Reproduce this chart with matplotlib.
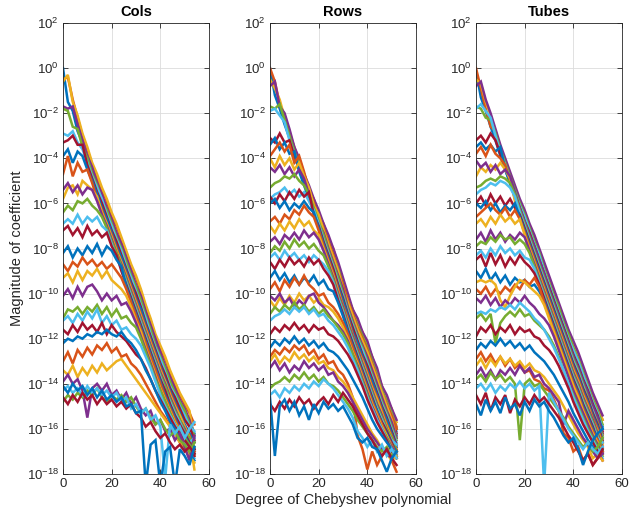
import numpy as np
import matplotlib
matplotlib.use("Agg")
import matplotlib.pyplot as plt
from matplotlib.ticker import FixedLocator, NullLocator

plt.rcParams['font.family'] = ['Liberation Sans', 'DejaVu Sans']
plt.rcParams['mathtext.fontset'] = 'custom'
plt.rcParams['mathtext.rm'] = 'Liberation Sans'
plt.rcParams['mathtext.it'] = 'Liberation Sans:italic'
plt.rcParams['mathtext.default'] = 'regular'

# MATLAB default colour order
colors = ['#0072BD', '#D95319', '#EDB120', '#7E2F8E', '#77AC30', '#4DBEEE', '#A2142F']

titles = ['Cols', 'Rows', 'Tubes']
xlabel = 'Degree of Chebyshev polynomial'
ylabel = 'Magnitude of coefficient'

# Chebyshev degrees sampled (every second degree)
deg_cols = list(range(0, 55, 2))
deg_rows = list(range(0, 53, 2))
deg_tubes = list(range(0, 53, 2))

# log10 of |coefficient|, one list per curve
cols_log10 = [
    [0.0,-1.5,-1.9,-2.8,-3.3,-4.1,-4.6,-5.3,-5.8,-6.4,-6.9,-7.5,-8.0,-8.6,-9.2,-9.8,-10.3,-11.0,-11.6,-12.3,-12.8,-13.4,-13.9,-14.5,-14.8,-15.3,-15.6,-16.2],
    [-0.5,-0.4,-1.4,-2.2,-3.0,-3.6,-4.3,-4.9,-5.4,-5.9,-6.6,-7.0,-7.6,-8.2,-8.8,-9.3,-9.9,-10.6,-11.2,-11.9,-12.4,-12.9,-13.5,-14.0,-14.5,-14.9,-15.3,-15.8],
    [-0.6,-0.3,-1.5,-2.1,-2.9,-3.5,-4.2,-4.7,-5.3,-5.8,-6.4,-6.9,-7.5,-8.1,-8.7,-9.2,-9.8,-10.5,-11.1,-11.8,-12.3,-12.8,-13.4,-13.9,-14.4,-14.8,-15.2,-16.6],
    [-1.7,-1.8,-1.7,-2.5,-3.2,-3.9,-4.4,-5.1,-5.6,-6.2,-6.7,-7.3,-7.8,-8.4,-9.0,-9.6,-10.1,-10.8,-11.4,-12.0,-12.6,-13.2,-13.7,-14.2,-14.7,-15.1,-15.6,-16.4],
    [-1.8,-1.9,-2.6,-2.7,-3.5,-4.0,-4.7,-5.2,-5.9,-6.3,-6.9,-7.5,-8.0,-8.6,-9.2,-9.7,-10.3,-11.0,-11.6,-12.3,-12.8,-13.3,-13.9,-14.4,-14.8,-15.2,-15.8,-16.3],
    [-2.9,-3.0,-2.8,-3.3,-3.6,-4.2,-4.8,-5.3,-5.8,-6.5,-7.0,-7.6,-8.1,-8.8,-9.3,-9.9,-10.5,-11.1,-11.8,-12.4,-12.9,-13.5,-14.1,-14.5,-15.0,-15.4,-15.9,-16.1],
    [-3.3,-3.2,-3.0,-3.4,-3.4,-4.3,-4.9,-5.5,-6.0,-6.6,-7.2,-7.7,-8.3,-8.9,-9.5,-10.0,-10.6,-11.3,-11.9,-12.5,-13.1,-13.6,-14.2,-14.6,-15.1,-15.6,-15.9,-16.5],
    [-3.9,-3.6,-4.2,-3.7,-3.9,-4.5,-5.0,-5.6,-6.2,-6.7,-7.3,-7.9,-8.4,-9.0,-9.6,-10.2,-10.7,-11.4,-12.0,-12.6,-13.2,-13.8,-14.3,-14.8,-15.3,-15.8,-16.2,-16.6],
    [-4.7,-3.9,-4.8,-4.2,-4.6,-4.5,-5.1,-5.8,-6.3,-6.9,-7.4,-8.0,-8.6,-9.1,-9.7,-10.3,-10.9,-11.5,-12.1,-12.7,-13.3,-13.9,-14.4,-14.9,-15.4,-15.9,-16.3,-16.9],
    [-5.8,-5.3,-5.2,-5.6,-5.0,-5.2,-5.4,-5.7,-6.4,-6.9,-7.5,-8.1,-8.6,-9.2,-9.8,-10.4,-11.0,-11.6,-12.2,-12.8,-13.4,-13.9,-14.5,-15.0,-15.4,-15.9,-16.4,-17.8],
    [-5.4,-5.1,-5.5,-5.2,-5.6,-5.3,-5.4,-5.9,-6.5,-7.0,-7.6,-8.2,-8.7,-9.3,-9.9,-10.5,-11.1,-11.7,-12.3,-12.9,-13.5,-14.0,-14.6,-15.1,-15.6,-16.0,-16.5,-16.9],
    [-6.4,-6.1,-6.3,-5.9,-6.0,-5.8,-6.1,-6.3,-6.6,-7.1,-7.7,-8.2,-8.8,-9.4,-10.0,-10.6,-11.2,-11.8,-12.4,-13.0,-13.6,-14.1,-14.7,-15.2,-15.6,-16.1,-16.4,-16.8],
    [-6.9,-6.7,-6.9,-6.5,-6.9,-6.6,-6.8,-6.6,-7.0,-7.2,-7.8,-8.4,-8.9,-9.5,-10.1,-10.7,-11.3,-11.9,-12.5,-13.1,-13.7,-14.3,-14.8,-15.3,-15.7,-16.2,-16.6,-16.4],
    [-7.2,-7.0,-7.4,-7.1,-7.5,-7.0,-7.4,-7.2,-7.5,-7.3,-7.9,-8.3,-9.0,-9.6,-10.2,-10.8,-11.4,-12.0,-12.6,-13.2,-13.8,-14.3,-14.9,-15.4,-15.8,-16.2,-16.6,-16.9],
    [-8.2,-7.9,-8.4,-8.0,-8.3,-7.9,-8.2,-7.8,-8.3,-7.9,-8.1,-8.5,-8.8,-9.7,-10.3,-10.9,-11.5,-12.1,-12.7,-13.3,-13.9,-14.5,-15.0,-15.5,-16.0,-16.3,-16.7,-17.0],
    [-8.7,-9.0,-8.6,-8.8,-8.4,-8.7,-8.5,-8.8,-8.6,-8.9,-8.7,-9.0,-9.3,-9.8,-10.4,-11.0,-11.6,-12.2,-12.8,-13.4,-14.0,-14.6,-15.1,-15.6,-16.0,-16.4,-16.8,-17.0],
    [-9.3,-9.1,-9.5,-9.0,-9.4,-9.0,-9.2,-8.9,-9.3,-9.0,-9.4,-9.6,-9.8,-10.1,-10.6,-11.2,-11.7,-12.4,-13.0,-13.6,-14.2,-14.7,-15.2,-15.7,-16.1,-16.5,-16.9,-17.2],
    [-10.1,-9.8,-10.2,-9.7,-10.1,-9.7,-9.6,-9.9,-10.3,-10.0,-10.3,-10.1,-10.5,-10.4,-10.8,-11.3,-11.9,-12.5,-13.1,-13.7,-14.3,-14.8,-15.3,-15.8,-16.2,-16.5,-16.8,-17.1],
    [-11.1,-10.7,-10.8,-10.6,-10.9,-10.6,-10.8,-10.5,-10.9,-10.6,-11.0,-10.7,-11.1,-11.0,-11.3,-11.5,-12.0,-12.6,-13.2,-13.8,-14.3,-14.8,-15.3,-15.8,-16.1,-16.4,-16.7,-17.1],
    [-11.2,-11.0,-11.3,-10.9,-11.2,-10.8,-11.1,-10.7,-11.3,-11.0,-11.4,-11.2,-11.6,-11.5,-11.8,-12.0,-12.3,-12.8,-13.3,-13.9,-14.5,-15.0,-15.4,-15.8,-16.2,-16.6,-16.9,-17.3],
    [-11.6,-11.8,-11.4,-11.7,-11.3,-11.6,-11.4,-11.7,-11.3,-11.8,-11.4,-11.7,-11.9,-12.1,-12.4,-12.7,-12.9,-13.3,-13.8,-14.3,-14.7,-15.1,-15.5,-15.9,-16.2,-16.5,-16.8,-17.2],
    [-12.2,-12.0,-12.1,-11.9,-12.0,-11.8,-11.9,-11.7,-11.8,-11.6,-11.8,-11.9,-11.7,-12.0,-12.2,-12.5,-12.9,-13.4,-13.8,-14.3,-14.8,-15.2,-15.7,-16.0,-16.4,-16.8,-17.1,-17.4],
    [-13.0,-12.6,-13.1,-12.5,-12.8,-12.4,-12.7,-12.3,-12.5,-12.2,-12.6,-12.4,-12.8,-12.7,-13.1,-13.3,-13.6,-14.0,-14.4,-14.8,-15.2,-15.5,-15.9,-16.2,-16.6,-16.9,-17.2,-17.0],
    [-13.4,-13.6,-13.2,-13.7,-13.3,-13.6,-13.2,-13.5,-13.1,-13.4,-13.2,-13.0,-12.9,-13.2,-13.5,-13.8,-14.1,-14.4,-14.7,-15.0,-15.3,-15.6,-15.9,-16.2,-16.6,-16.9,-17.2,-17.5],
    [-13.9,-13.6,-14.0,-13.8,-14.3,-15.5,-14.2,-14.0,-14.3,-14.0,-14.5,-14.3,-14.7,-14.4,-14.9,-14.6,-15.1,-15.4,-15.2,-15.8,-15.6,-16.1,-16.0,-16.5,-16.2,-16.8,-17.4,-16.3],
    [-14.8,-14.5,-14.7,-14.4,-14.6,-14.3,-14.5,-14.2,-14.6,-14.8,-14.5,-14.7,-14.5,-14.8,-14.6,-15.0,-15.3,-15.1,-15.5,-15.8,-15.6,-16.0,-16.3,-16.1,-16.5,-16.7,-17.0,-16.6],
    [-14.3,-14.1,-14.4,-14.2,-14.5,-14.1,-14.4,-14.2,-14.5,-14.3,-14.6,-14.4,-14.8,-14.6,-15.1,-14.9,-15.3,-15.1,-15.6,-15.4,-15.9,-18.2,-15.8,-16.2,-15.9,-16.4,-16.0,-15.7],
    [-14.6,-14.9,-14.5,-14.8,-14.4,-14.7,-14.5,-14.9,-14.6,-14.9,-14.7,-15.0,-14.8,-15.1,-14.9,-15.3,-15.5,-15.9,-15.7,-16.1,-16.4,-16.2,-16.6,-16.9,-16.7,-17.0,-16.8,-17.1],
    [-14.1,-14.4,-14.0,-14.3,-14.1,-14.5,-14.2,-14.6,-14.3,-14.7,-14.5,-14.8,-14.6,-15.0,-14.9,-15.3,-15.2,-18.5,-16.7,-16.5,-18.5,-17.0,-16.8,-18.5,-16.9,-17.2,-17.6,-16.8],
]

rows_log10 = [
    [0.0,-1.2,-1.8,-2.5,-3.1,-3.9,-4.4,-5.1,-5.6,-6.2,-6.7,-7.3,-7.8,-8.4,-9.0,-9.8,-10.4,-11.1,-11.5,-12.1,-12.5,-13.2,-13.7,-14.5,-14.9,-15.5,-16.0],
    [0.0,-0.6,-1.6,-2.1,-2.9,-3.5,-4.2,-4.7,-5.4,-5.8,-6.5,-6.9,-7.6,-8.0,-8.8,-9.4,-10.2,-10.7,-11.3,-11.7,-12.3,-12.8,-13.5,-14.1,-14.7,-15.1,-15.9],
    [-0.5,-0.9,-1.4,-2.2,-2.8,-3.6,-4.1,-4.8,-5.3,-5.9,-6.4,-7.0,-7.5,-8.1,-8.7,-9.5,-10.1,-10.8,-11.2,-11.8,-12.2,-12.9,-13.4,-14.2,-14.6,-15.2,-15.7],
    [-0.8,-0.6,-1.7,-2.0,-2.7,-3.5,-4.0,-4.7,-5.2,-5.8,-6.3,-6.9,-7.4,-8.0,-8.6,-9.3,-10.0,-10.7,-11.1,-11.7,-12.1,-12.8,-13.3,-14.1,-14.5,-15.1,-15.6],
    [-1.7,-1.8,-1.6,-2.3,-3.0,-3.7,-4.3,-4.9,-5.5,-6.0,-6.6,-7.1,-7.7,-8.3,-8.9,-9.6,-10.3,-10.9,-11.4,-11.9,-12.4,-13.0,-13.6,-14.3,-14.8,-15.3,-16.0],
    [-1.9,-1.8,-2.1,-2.4,-3.2,-3.8,-4.4,-5.0,-5.6,-6.1,-6.7,-7.3,-7.8,-8.4,-9.1,-9.7,-10.4,-11.0,-11.5,-12.1,-12.6,-13.1,-13.7,-14.4,-14.9,-15.4,-16.1],
    [-3.1,-3.3,-2.9,-3.3,-3.2,-3.9,-4.5,-5.1,-5.7,-6.2,-6.8,-7.4,-7.9,-8.5,-9.2,-9.9,-10.5,-11.1,-11.7,-12.2,-12.7,-13.3,-13.9,-14.5,-15.0,-15.5,-16.2],
    [-3.4,-3.1,-3.6,-3.3,-3.8,-3.7,-4.6,-5.2,-5.8,-6.4,-6.9,-7.5,-8.0,-8.7,-9.3,-10.0,-10.6,-11.3,-11.8,-12.3,-12.9,-13.4,-14.0,-14.6,-15.1,-15.7,-16.3],
    [-3.9,-3.6,-3.3,-3.7,-3.4,-4.2,-3.9,-4.6,-5.4,-6.0,-6.6,-7.1,-7.7,-8.3,-9.0,-9.6,-10.3,-10.9,-11.5,-12.0,-12.5,-13.1,-13.7,-14.4,-14.9,-15.4,-16.0],
    [-4.0,-4.4,-3.9,-4.3,-4.0,-4.5,-4.2,-4.8,-5.3,-6.1,-6.5,-7.2,-7.8,-8.4,-9.0,-9.8,-10.4,-11.0,-11.6,-12.1,-12.6,-13.2,-13.8,-14.4,-15.0,-15.6,-16.4],
    [-4.4,-4.6,-4.3,-4.7,-4.4,-4.8,-4.5,-4.9,-5.6,-6.3,-6.9,-7.3,-8.0,-8.6,-9.2,-9.8,-10.6,-11.2,-11.8,-12.3,-12.8,-13.4,-14.0,-14.6,-15.2,-15.7,-16.4],
    [-5.3,-5.1,-5.0,-4.8,-4.9,-4.7,-5.0,-5.2,-5.6,-6.2,-6.8,-7.4,-8.1,-8.7,-9.3,-10.0,-10.7,-11.3,-11.9,-12.4,-13.0,-13.6,-14.2,-14.8,-15.3,-15.9,-16.5],
    [-5.8,-5.6,-5.5,-5.3,-5.6,-5.4,-5.7,-5.5,-5.9,-6.3,-6.9,-7.6,-8.2,-8.8,-9.5,-10.1,-10.8,-11.4,-12.0,-12.5,-13.1,-13.7,-14.3,-14.9,-15.4,-16.0,-16.6],
    [-5.7,-6.0,-5.6,-5.9,-5.5,-5.8,-5.4,-5.7,-5.5,-6.5,-7.0,-7.7,-8.3,-8.9,-9.6,-10.2,-10.9,-11.5,-12.1,-12.7,-13.2,-13.8,-14.4,-15.0,-15.5,-16.1,-16.7],
    [-6.0,-5.8,-6.2,-5.9,-6.3,-6.0,-6.2,-5.9,-6.2,-6.4,-7.1,-7.8,-8.4,-9.1,-9.7,-10.3,-11.0,-11.7,-12.2,-12.8,-13.4,-13.9,-14.5,-15.1,-15.6,-16.2,-16.8],
    [-6.8,-6.6,-6.9,-6.5,-6.7,-6.3,-6.5,-6.1,-6.4,-6.6,-7.2,-7.9,-8.5,-9.1,-9.8,-10.5,-11.1,-11.8,-12.4,-12.9,-13.5,-14.1,-14.6,-15.2,-15.8,-16.3,-16.9],
    [-7.0,-7.3,-6.9,-7.2,-6.8,-7.1,-6.7,-7.0,-6.8,-7.2,-7.4,-8.0,-8.6,-9.2,-9.9,-10.6,-11.2,-11.9,-12.5,-13.0,-13.6,-14.2,-14.7,-15.3,-15.9,-16.4,-17.0],
    [-7.7,-7.5,-7.8,-7.4,-7.6,-7.3,-7.6,-7.2,-7.5,-7.3,-7.6,-8.1,-8.7,-9.3,-10.0,-10.6,-11.3,-11.9,-12.5,-13.1,-13.7,-14.3,-14.9,-15.4,-16.0,-16.5,-17.0],
    [-8.2,-7.9,-8.1,-7.7,-8.0,-7.6,-7.9,-7.7,-8.0,-7.8,-8.1,-8.3,-8.8,-9.4,-10.1,-10.7,-11.4,-12.0,-12.6,-13.2,-13.8,-14.4,-15.0,-15.5,-16.0,-16.4,-17.0],
    [-8.4,-8.2,-8.5,-8.1,-8.4,-8.2,-8.5,-8.3,-8.6,-8.3,-8.5,-8.7,-9.0,-9.5,-10.2,-10.8,-11.5,-12.1,-12.7,-13.3,-13.9,-14.5,-15.1,-15.6,-16.1,-16.5,-16.7],
    [-8.6,-8.9,-8.5,-8.8,-8.4,-8.7,-8.5,-8.8,-8.4,-8.7,-8.5,-8.9,-9.2,-9.6,-10.3,-10.9,-11.6,-12.2,-12.8,-13.4,-14.0,-14.6,-15.2,-15.7,-16.1,-16.6,-17.1],
    [-9.3,-9.0,-9.4,-9.1,-9.5,-9.2,-9.6,-9.3,-9.5,-9.2,-9.6,-9.4,-9.8,-9.9,-10.4,-11.0,-11.7,-12.3,-12.9,-13.5,-14.1,-14.7,-15.2,-15.8,-16.2,-16.7,-17.0],
    [-9.8,-9.5,-9.9,-9.4,-9.7,-9.3,-9.6,-9.2,-9.6,-9.8,-10.1,-10.0,-10.4,-10.6,-10.9,-11.3,-11.8,-12.4,-13.0,-13.6,-14.2,-14.8,-15.3,-15.8,-16.3,-16.7,-17.2],
    [-10.3,-10.6,-10.2,-10.5,-10.1,-10.4,-10.0,-10.3,-10.1,-10.4,-10.2,-10.5,-10.6,-10.8,-11.1,-11.5,-12.0,-12.6,-13.1,-13.7,-14.3,-14.9,-15.4,-15.9,-16.3,-16.8,-17.3],
    [-10.1,-10.3,-10.0,-10.4,-10.2,-10.6,-10.3,-10.5,-10.1,-10.0,-10.4,-10.6,-10.9,-11.2,-11.4,-11.7,-12.1,-12.7,-13.2,-13.8,-14.4,-15.0,-15.5,-16.0,-16.4,-16.8,-17.2],
    [-10.9,-10.6,-10.8,-10.5,-10.7,-10.4,-10.7,-10.5,-10.8,-10.6,-10.9,-10.7,-11.0,-11.2,-11.5,-11.8,-12.2,-12.7,-13.3,-13.9,-14.5,-15.1,-15.6,-16.0,-16.4,-16.9,-17.3],
    [-11.2,-11.0,-10.9,-10.7,-10.9,-10.6,-10.8,-10.6,-10.9,-10.7,-11.0,-10.9,-11.2,-11.4,-11.7,-12.0,-12.4,-12.9,-13.4,-14.0,-14.6,-15.1,-15.6,-16.0,-16.5,-16.9,-17.1],
    [-11.8,-11.5,-11.7,-11.4,-11.6,-11.3,-11.6,-11.4,-11.7,-11.4,-11.6,-11.5,-11.8,-11.9,-12.1,-12.4,-12.7,-13.1,-13.6,-14.1,-14.7,-15.2,-15.7,-16.1,-16.5,-17.0,-17.3],
    [-12.4,-12.1,-12.3,-12.0,-12.2,-11.9,-12.2,-12.0,-12.3,-12.1,-12.4,-12.2,-12.5,-12.6,-12.8,-13.1,-13.4,-13.8,-14.2,-14.6,-15.1,-15.6,-16.0,-16.3,-16.6,-16.9,-17.2],
    [-12.8,-12.5,-12.7,-12.4,-12.6,-12.3,-12.5,-12.3,-12.7,-12.5,-12.9,-12.7,-13.1,-13.0,-13.4,-13.6,-14.0,-14.6,-16.3,-16.9,-17.8,-17.0,-17.6,-17.2,-16.9,-17.4,-17.9],
    [-13.0,-12.7,-13.1,-12.8,-13.0,-12.6,-12.9,-12.7,-13.0,-12.8,-13.1,-13.0,-13.3,-13.4,-13.7,-13.9,-14.2,-14.6,-15.0,-15.4,-15.8,-16.2,-16.5,-16.9,-17.1,-17.4,-17.2],
    [-13.3,-13.0,-13.4,-13.1,-13.5,-13.2,-13.4,-13.0,-13.3,-13.1,-13.4,-13.2,-13.6,-13.5,-13.9,-14.1,-14.4,-14.8,-15.2,-15.6,-16.0,-16.3,-16.6,-16.9,-17.1,-17.3,-17.0],
    [-14.2,-14.0,-13.9,-13.7,-13.9,-13.6,-13.8,-13.5,-13.8,-13.6,-13.9,-13.7,-14.0,-14.1,-14.3,-14.6,-14.9,-15.2,-15.6,-15.9,-16.2,-16.5,-16.8,-17.0,-16.8,-17.2,-17.0],
    [-14.5,-14.3,-14.6,-14.2,-14.4,-14.1,-14.3,-14.0,-14.2,-13.9,-14.1,-13.8,-14.0,-14.2,-14.5,-14.8,-15.1,-15.5,-16.1,-16.4,-16.8,-16.5,-17.0,-16.7,-17.2,-16.9,-17.3],
    [-14.9,-15.2,-14.8,-15.1,-14.7,-15.0,-14.6,-14.9,-14.7,-15.1,-14.8,-14.6,-14.9,-14.5,-14.8,-14.4,-14.7,-15.0,-15.4,-15.8,-16.2,-16.5,-16.9,-17.2,-16.9,-17.3,-17.6],
    [-14.6,-17.2,-15.0,-14.7,-15.2,-14.8,-15.4,-15.0,-15.6,-14.9,-15.3,-14.8,-15.1,-14.9,-15.2,-15.0,-15.4,-15.8,-16.4,-16.6,-16.4,-16.8,-16.9,-17.4,-17.9,-17.3,-17.0],
]

tubes_log10 = [
    [-0.1,-1.3,-1.9,-2.6,-3.2,-3.9,-4.5,-5.1,-5.7,-6.3,-6.8,-7.4,-7.9,-8.5,-9.1,-9.7,-10.3,-10.9,-11.5,-12.1,-12.6,-13.1,-13.7,-14.3,-14.8,-15.3,-15.9],
    [0.0,-0.9,-1.8,-2.6,-2.8,-3.6,-4.2,-4.8,-5.4,-6.0,-6.5,-7.1,-7.6,-8.2,-8.8,-9.4,-10.0,-10.6,-11.2,-11.8,-12.3,-12.8,-13.4,-14.0,-14.6,-15.1,-15.6],
    [-0.5,-0.7,-1.5,-2.1,-2.8,-3.5,-4.1,-4.7,-5.3,-5.9,-6.4,-7.0,-7.5,-8.1,-8.7,-9.3,-9.9,-10.5,-11.1,-11.7,-12.2,-12.7,-13.3,-13.9,-14.5,-15.0,-15.6],
    [-0.8,-0.6,-1.4,-2.0,-2.7,-3.4,-4.0,-4.6,-5.2,-5.8,-6.3,-6.9,-7.4,-8.0,-8.6,-9.2,-9.8,-10.4,-11.0,-11.6,-12.1,-12.6,-13.2,-13.8,-14.4,-14.9,-15.4],
    [-1.7,-1.8,-2.2,-2.3,-2.9,-3.6,-4.2,-4.8,-5.4,-6.0,-6.5,-7.1,-7.7,-8.2,-8.9,-9.5,-10.1,-10.6,-11.3,-11.8,-12.4,-12.9,-13.5,-14.1,-14.7,-15.2,-15.8],
    [-1.8,-1.6,-1.9,-2.2,-3.0,-3.7,-4.3,-4.9,-5.5,-6.1,-6.6,-7.2,-7.8,-8.3,-9.0,-9.6,-10.2,-10.8,-11.4,-12.0,-12.5,-13.0,-13.6,-14.2,-14.8,-15.3,-16.0],
    [-3.2,-3.0,-3.3,-2.9,-3.2,-3.8,-4.4,-5.0,-5.6,-6.2,-6.8,-7.3,-7.9,-8.5,-9.1,-9.7,-10.3,-10.9,-11.5,-12.1,-12.7,-13.2,-13.8,-14.3,-14.9,-15.4,-16.1],
    [-3.5,-3.3,-3.6,-3.4,-3.7,-3.5,-4.5,-5.1,-5.7,-6.3,-6.9,-7.5,-8.0,-8.6,-9.2,-9.8,-10.4,-11.0,-11.6,-12.2,-12.8,-13.3,-13.9,-14.4,-15.0,-15.5,-16.0],
    [-3.8,-3.5,-3.9,-3.4,-3.8,-4.0,-4.3,-5.0,-5.8,-6.4,-7.0,-7.6,-8.2,-8.8,-9.4,-10.0,-10.6,-11.2,-11.8,-12.4,-12.9,-13.4,-14.0,-14.5,-15.1,-15.6,-16.2],
    [-4.8,-4.4,-4.6,-4.3,-4.5,-4.2,-4.5,-4.9,-5.9,-6.5,-7.1,-7.7,-8.3,-8.9,-9.5,-10.1,-10.7,-11.3,-11.9,-12.5,-13.0,-13.5,-14.1,-14.6,-15.2,-15.7,-16.3],
    [-4.1,-4.4,-4.2,-4.6,-4.3,-4.7,-4.5,-4.8,-5.5,-6.2,-6.8,-7.4,-7.9,-8.5,-9.1,-9.8,-10.4,-11.0,-11.6,-12.2,-12.8,-13.3,-13.9,-14.4,-15.0,-15.5,-16.2],
    [-5.3,-5.2,-5.0,-4.9,-5.0,-4.8,-4.9,-5.1,-5.6,-6.3,-6.9,-7.5,-8.1,-8.7,-9.3,-9.9,-10.5,-11.1,-11.7,-12.3,-12.9,-13.4,-14.0,-14.6,-15.2,-15.7,-16.3],
    [-5.6,-5.4,-5.3,-5.1,-5.2,-5.0,-5.1,-5.3,-5.7,-6.4,-7.0,-7.6,-8.2,-8.8,-9.4,-10.0,-10.6,-11.2,-11.8,-12.4,-13.0,-13.5,-14.1,-14.7,-15.2,-15.8,-16.4],
    [-6.0,-5.7,-6.1,-5.6,-6.0,-5.7,-6.1,-5.8,-6.2,-6.5,-7.1,-7.7,-8.3,-8.9,-9.5,-10.1,-10.7,-11.3,-11.9,-12.5,-13.1,-13.6,-14.2,-14.7,-15.3,-15.8,-16.5],
    [-6.0,-6.2,-5.9,-6.3,-6.0,-6.4,-6.1,-6.3,-6.0,-6.6,-7.2,-7.8,-8.4,-9.0,-9.6,-10.2,-10.8,-11.4,-12.0,-12.6,-13.2,-13.7,-14.3,-14.8,-15.4,-15.9,-16.6],
    [-6.6,-6.4,-6.2,-6.0,-6.3,-6.5,-6.2,-6.6,-6.3,-6.7,-7.3,-7.9,-8.5,-9.1,-9.7,-10.3,-10.9,-11.5,-12.1,-12.7,-13.3,-13.8,-14.4,-14.9,-15.5,-16.0,-16.6],
    [-6.9,-6.7,-7.0,-6.6,-6.9,-6.5,-6.8,-6.6,-6.9,-6.7,-7.4,-8.0,-8.6,-9.2,-9.8,-10.4,-11.0,-11.6,-12.2,-12.8,-13.4,-13.9,-14.5,-15.0,-15.6,-16.1,-16.7],
    [-7.6,-7.3,-7.7,-7.2,-7.6,-7.3,-7.7,-7.4,-7.6,-7.3,-7.5,-8.1,-8.7,-9.3,-9.9,-10.5,-11.1,-11.7,-12.3,-12.9,-13.5,-14.0,-14.6,-15.1,-15.6,-16.2,-16.8],
    [-7.9,-7.7,-7.8,-7.5,-7.7,-7.4,-7.6,-7.5,-7.8,-7.6,-7.8,-8.2,-8.8,-9.4,-10.0,-10.6,-11.2,-11.8,-12.4,-13.0,-13.6,-14.1,-14.7,-15.2,-15.7,-16.3,-16.9],
    [-8.3,-8.1,-8.4,-8.0,-8.3,-7.9,-8.2,-8.0,-8.3,-8.1,-8.4,-8.5,-8.9,-9.5,-10.1,-10.7,-11.3,-11.9,-12.5,-13.1,-13.7,-14.2,-14.8,-15.3,-15.8,-16.4,-16.6],
    [-8.5,-8.3,-8.8,-8.2,-8.7,-8.3,-8.8,-8.4,-8.7,-8.3,-8.6,-8.8,-9.1,-9.6,-10.2,-10.8,-11.4,-12.0,-12.6,-13.2,-13.8,-14.3,-14.9,-15.4,-15.9,-16.5,-17.0],
    [-9.0,-9.3,-8.9,-9.4,-9.1,-9.5,-9.2,-9.6,-9.3,-9.5,-9.4,-9.7,-9.6,-9.9,-10.3,-10.9,-11.5,-12.1,-12.7,-13.3,-13.9,-14.4,-15.0,-15.5,-16.0,-16.5,-17.0],
    [-9.8,-10.0,-9.7,-10.1,-9.8,-10.0,-9.7,-9.9,-9.6,-9.8,-9.4,-9.6,-9.3,-9.7,-10.4,-11.0,-11.6,-12.2,-12.8,-13.4,-14.0,-14.5,-15.1,-15.6,-16.1,-16.5,-17.0],
    [-9.5,-9.4,-9.5,-9.4,-9.6,-10.3,-10.6,-10.1,-9.7,-9.4,-9.5,-9.7,-9.9,-10.1,-10.5,-11.1,-11.7,-12.3,-12.9,-13.5,-14.1,-14.6,-15.2,-15.7,-16.2,-16.6,-17.1],
    [-10.2,-10.4,-10.1,-10.5,-10.2,-10.6,-10.3,-10.5,-10.2,-10.4,-10.1,-10.4,-10.6,-10.9,-11.1,-11.4,-11.9,-12.5,-13.1,-13.7,-14.3,-14.8,-15.3,-15.8,-16.3,-16.7,-17.1],
    [-11.1,-10.9,-11.2,-10.9,-12.2,-11.3,-11.0,-10.8,-11.0,-10.7,-11.0,-10.9,-11.2,-11.4,-11.6,-11.9,-12.3,-12.8,-13.4,-14.0,-14.5,-15.0,-15.5,-16.0,-16.4,-16.8,-17.2],
    [-10.9,-10.8,-10.9,-10.7,-10.8,-10.6,-10.7,-10.5,-10.7,-10.4,-10.6,-10.8,-11.1,-11.3,-11.6,-12.0,-12.4,-12.9,-13.4,-14.0,-14.6,-15.1,-15.6,-16.1,-16.5,-16.9,-17.3],
    [-11.9,-11.5,-11.7,-11.4,-11.8,-11.5,-11.7,-11.4,-11.8,-11.5,-11.7,-11.6,-11.9,-12.0,-12.3,-12.5,-12.8,-13.2,-13.7,-14.2,-14.8,-15.3,-15.8,-16.2,-16.6,-17.0,-17.4],
    [-12.5,-12.2,-12.4,-12.1,-12.3,-12.0,-12.3,-12.1,-12.4,-12.2,-12.5,-12.3,-12.6,-12.8,-13.0,-13.3,-13.6,-14.0,-14.4,-14.8,-15.3,-15.7,-16.1,-16.5,-16.8,-17.1,-17.0],
    [-12.9,-12.6,-13.0,-12.7,-13.1,-12.8,-13.2,-12.9,-13.3,-13.1,-13.5,-13.4,-13.8,-13.9,-14.2,-14.3,-14.7,-15.2,-16.2,-16.4,-17.0,-16.8,-17.4,-17.1,-17.6,-17.3,-17.0],
    [-13.2,-12.9,-13.3,-12.9,-13.2,-12.8,-13.1,-12.9,-13.2,-13.0,-13.3,-13.1,-13.4,-13.5,-13.7,-14.0,-14.3,-14.6,-15.0,-15.4,-15.8,-16.2,-16.5,-16.8,-17.3,-17.1,-17.4],
    [-13.6,-13.3,-13.7,-13.4,-13.8,-13.4,-13.6,-13.3,-13.6,-13.2,-13.5,-13.3,-13.7,-13.6,-14.0,-14.2,-14.5,-14.8,-15.8,-15.2,-15.6,-16.0,-16.4,-16.7,-17.0,-17.3,-17.1],
    [-13.8,-13.6,-13.9,-13.5,-13.8,-13.6,-13.9,-13.7,-14.0,-16.5,-14.0,-13.8,-14.1,-14.0,-14.3,-14.6,-14.9,-15.2,-15.5,-15.9,-16.2,-16.5,-16.8,-16.6,-17.0,-16.8,-16.4],
    [-14.2,-14.0,-14.3,-14.0,-14.4,-14.1,-14.3,-14.0,-14.2,-13.9,-14.2,-14.0,-14.3,-14.1,-18.5,-14.4,-14.8,-15.2,-15.6,-16.0,-16.3,-16.6,-16.9,-16.6,-16.9,-17.1,-16.8],
    [-14.5,-14.9,-14.4,-15.2,-14.6,-14.9,-14.5,-15.3,-14.7,-15.0,-14.6,-14.9,-14.5,-14.8,-14.6,-14.9,-15.2,-15.5,-15.9,-16.3,-16.6,-17.0,-17.4,-17.1,-17.6,-17.3,-16.9],
    [-14.9,-15.4,-14.7,-15.2,-14.8,-15.3,-14.6,-15.1,-14.9,-15.4,-14.8,-15.2,-14.7,-15.0,-14.8,-15.2,-15.5,-15.9,-16.3,-16.6,-16.4,-16.9,-17.6,-17.0,-16.5,-16.2,-16.0],
]

yticks_exp = list(range(-18, 3, 2))
xticks = [0, 20, 40, 60]

fig = plt.figure(figsize=(6.31, 5.14), dpi=100)
W, H = 631.0, 514.0
lefts = [63, 270, 476]
axw = 146
bottom_px, top_px = 474, 23

text_col = '#262626'
panels = [(deg_cols, cols_log10), (deg_rows, rows_log10), (deg_tubes, tubes_log10)]
axes = []
for i, (deg, lines) in enumerate(panels):
    ax = fig.add_axes([lefts[i] / W, 1 - bottom_px / H, axw / W, (bottom_px - top_px) / H])
    axes.append(ax)
    for k, vals in enumerate(lines):
        n = min(len(deg), len(vals))
        y = 10.0 ** np.array(vals[:n])
        ax.plot(deg[:n], y, color=colors[k % 7], lw=1.8, solid_joinstyle='miter')
    ax.set_yscale('log')
    ax.set_xlim(0, 60)
    ax.set_ylim(1e-18, 1e2)
    ax.yaxis.set_major_locator(FixedLocator([10.0 ** e for e in yticks_exp]))
    ax.yaxis.set_minor_locator(NullLocator())
    ax.set_xticks(xticks)
    ax.grid(True, color='#dcdcdc', lw=0.6)
    ax.set_axisbelow(True)
    ax.tick_params(direction='in', length=3.5, width=0.6, top=True, right=True,
                   labelsize=9.5, colors=text_col, pad=3)
    for s in ax.spines.values():
        s.set_color(text_col)
        s.set_linewidth(0.6)
    ax.set_title(titles[i], fontsize=10.5, fontweight='bold', color='black', pad=5)

axes[0].set_ylabel(ylabel, fontsize=10.5, color=text_col, labelpad=2)
axes[1].set_xlabel(xlabel, fontsize=10.5, color=text_col, labelpad=2)

fig.savefig('out.png', dpi=100)
